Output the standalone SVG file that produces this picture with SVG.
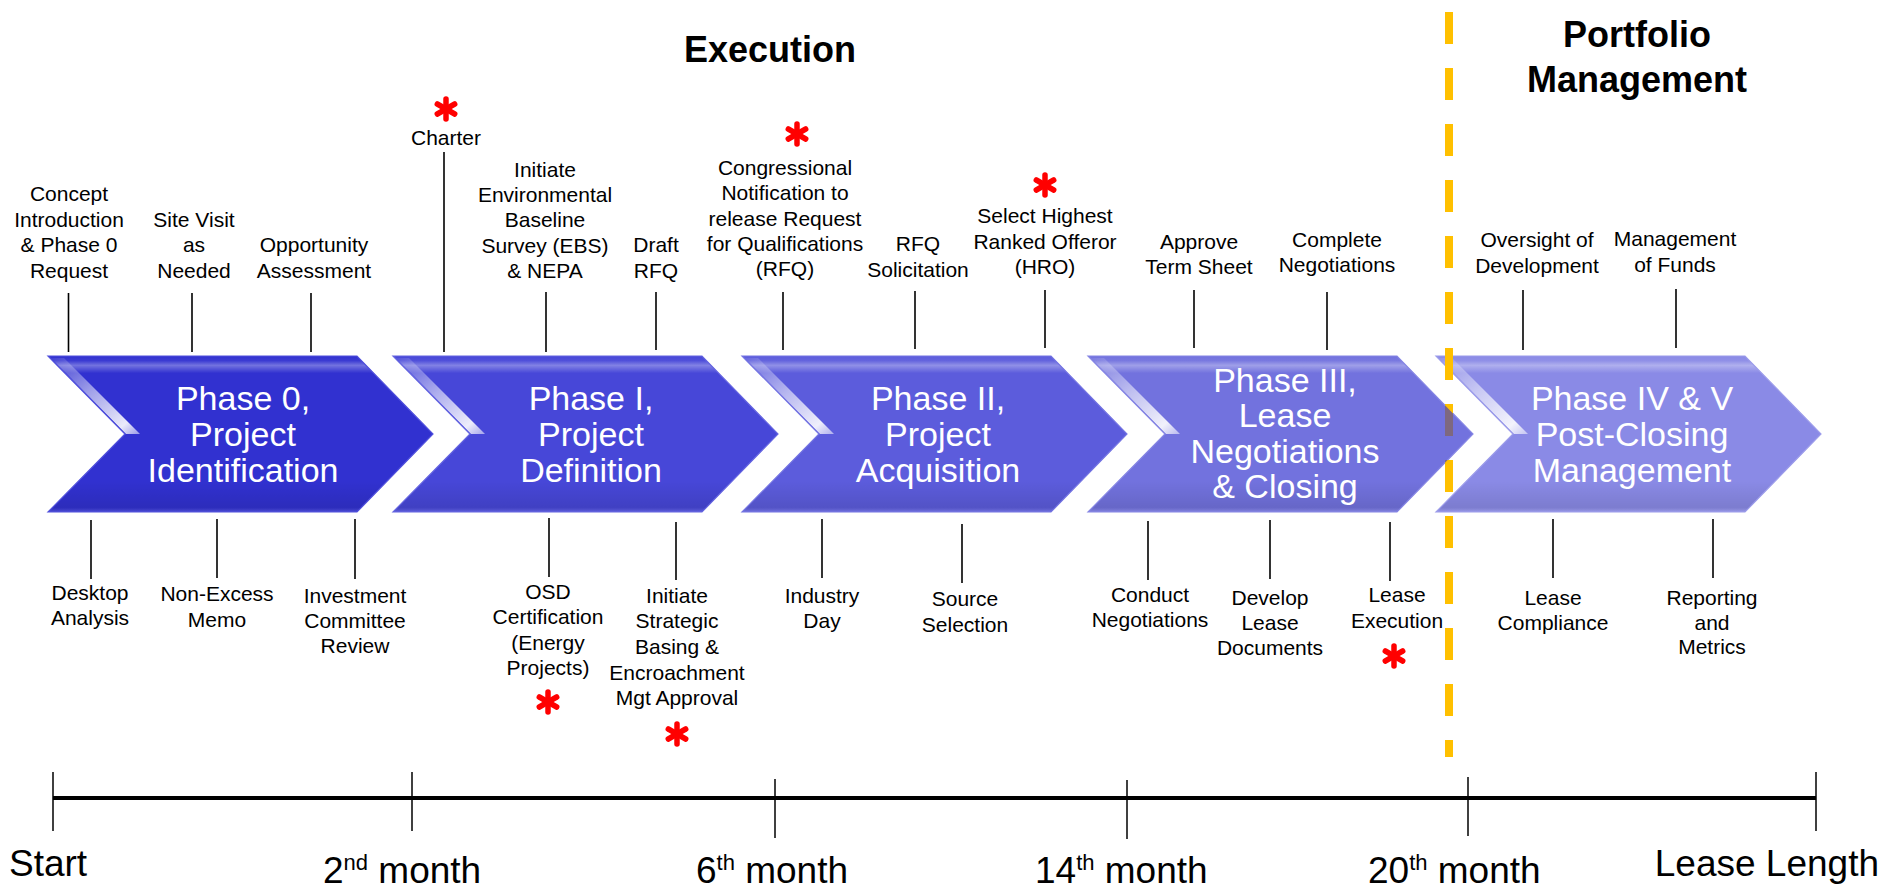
<svg xmlns="http://www.w3.org/2000/svg" xmlns:xlink="http://www.w3.org/1999/xlink" width="1898" height="891" viewBox="0 0 1898 891">
<style>
.lbl{font-family:"Liberation Sans",Arial,sans-serif;font-size:21px;fill:#000;text-anchor:middle}
.ph{font-family:"Liberation Sans",Arial,sans-serif;font-size:34px;fill:#fff;text-anchor:middle}
.title{font-family:"Liberation Sans",Arial,sans-serif;font-size:36px;font-weight:bold;fill:#000;text-anchor:middle}
.ax{font-family:"Liberation Sans",Arial,sans-serif;font-size:37px;fill:#000}
.sup{font-size:22px}
.tick{stroke:#000;stroke-width:1.5}
.conn line{stroke:#000;stroke-width:1.6}
.edge{fill:none;stroke-width:1.2}
</style>
<defs>
<path id="chev" d="M0,0 H309 L385,78 L309,156 H0 L77,78 Z"/>
<linearGradient id="gloss" x1="0" y1="0" x2="0" y2="1">
<stop offset="0" stop-color="#fff" stop-opacity="0"/>
<stop offset="0.03" stop-color="#fff" stop-opacity="0.05"/>
<stop offset="0.06" stop-color="#fff" stop-opacity="0.32"/>
<stop offset="0.11" stop-color="#fff" stop-opacity="0"/>
<stop offset="0.8" stop-color="#000" stop-opacity="0"/>
<stop offset="0.97" stop-color="#000" stop-opacity="0.1"/>
<stop offset="1" stop-color="#fff" stop-opacity="0.15"/>
</linearGradient>
<linearGradient id="bevel" x1="0" y1="0" x2="1" y2="1">
<stop offset="0" stop-color="#fff" stop-opacity="0.05"/>
<stop offset="0.45" stop-color="#fff" stop-opacity="0.55"/>
<stop offset="0.85" stop-color="#fff" stop-opacity="0.9"/>
<stop offset="1" stop-color="#fff" stop-opacity="0.5"/>
</linearGradient>
<polygon id="bev" points="3,2 16,2 92,78 78,78"/>
<g id="ast">
<line x1="0" y1="-10" x2="0" y2="10" stroke="#f00" stroke-width="5.5" stroke-linecap="round"/>
<line x1="-8.7" y1="-5" x2="8.7" y2="5" stroke="#f00" stroke-width="5.5" stroke-linecap="round"/>
<line x1="-8.7" y1="5" x2="8.7" y2="-5" stroke="#f00" stroke-width="5.5" stroke-linecap="round"/>
</g>
<clipPath id="clip3"><use xlink:href="#chev" transform="translate(1088,356)"/></clipPath>
</defs>

<rect width="1898" height="891" fill="#fff"/>

<g id="title-execution"><text class="title" x="770" y="62">Execution</text></g>
<g id="title-portfolio"><text class="title" x="1637" y="47">Portfolio</text><text class="title" x="1637" y="92">Management</text></g>

<!-- chevrons -->
<g id="phase0" transform="translate(48,356)">
<use xlink:href="#chev" fill="#3131d0"/>
<use xlink:href="#chev" fill="url(#gloss)"/>
<use xlink:href="#bev" fill="url(#bevel)"/>
<use xlink:href="#chev" class="edge" stroke="#5050dc"/>
</g>
<g id="phase1" transform="translate(393,356)">
<use xlink:href="#chev" fill="#4747d8"/>
<use xlink:href="#chev" fill="url(#gloss)"/>
<use xlink:href="#bev" fill="url(#bevel)"/>
<use xlink:href="#chev" class="edge" stroke="#6464e0"/>
</g>
<g id="phase2" transform="translate(742,356)">
<use xlink:href="#chev" fill="#5c5cdc"/>
<use xlink:href="#chev" fill="url(#gloss)"/>
<use xlink:href="#bev" fill="url(#bevel)"/>
<use xlink:href="#chev" class="edge" stroke="#7474e2"/>
</g>
<g id="phase3" transform="translate(1088,356)">
<use xlink:href="#chev" fill="#7272de"/>
<use xlink:href="#chev" fill="url(#gloss)"/>
<use xlink:href="#bev" fill="url(#bevel)"/>
<use xlink:href="#chev" class="edge" stroke="#8686e4"/>
</g>
<g id="phase4" transform="translate(1436,356)">
<use xlink:href="#chev" fill="#8a8ae6"/>
<use xlink:href="#chev" fill="url(#gloss)"/>
<use xlink:href="#bev" fill="url(#bevel)"/>
<use xlink:href="#chev" class="edge" stroke="#9c9cea"/>
</g>

<!-- divider -->
<g id="divider">
<line x1="1449" y1="12" x2="1449" y2="757" stroke="#ffc000" stroke-width="8" stroke-dasharray="32 24"/>
<line x1="1449" y1="12" x2="1449" y2="757" stroke="#7e6880" stroke-width="8" stroke-dasharray="32 24" clip-path="url(#clip3)"/>
</g>

<!-- phase texts -->
<g id="phase0-text"><text class="ph" x="243" y="410">Phase 0,</text><text class="ph" x="243" y="446">Project</text><text class="ph" x="243" y="482">Identification</text></g>
<g id="phase1-text"><text class="ph" x="591" y="410">Phase I,</text><text class="ph" x="591" y="446">Project</text><text class="ph" x="591" y="482">Definition</text></g>
<g id="phase2-text"><text class="ph" x="938" y="410">Phase II,</text><text class="ph" x="938" y="446">Project</text><text class="ph" x="938" y="482">Acquisition</text></g>
<g id="phase3-text"><text class="ph" x="1285" y="392">Phase III,</text><text class="ph" x="1285" y="427">Lease</text><text class="ph" x="1285" y="463">Negotiations</text><text class="ph" x="1285" y="498">&amp; Closing</text></g>
<g id="phase4-text"><text class="ph" x="1632" y="410">Phase IV &amp; V</text><text class="ph" x="1632" y="446">Post-Closing</text><text class="ph" x="1632" y="482">Management</text></g>

<!-- connectors -->
<g id="connectors" class="conn">
<line x1="68.5" y1="293" x2="68.5" y2="352"/>
<line x1="192" y1="293" x2="192" y2="352"/>
<line x1="311" y1="293" x2="311" y2="352"/>
<line x1="444" y1="152" x2="444" y2="352"/>
<line x1="546" y1="292" x2="546" y2="352"/>
<line x1="656" y1="292" x2="656" y2="350"/>
<line x1="783" y1="292" x2="783" y2="350"/>
<line x1="915" y1="291" x2="915" y2="349"/>
<line x1="1045" y1="290" x2="1045" y2="348"/>
<line x1="1194" y1="290" x2="1194" y2="348"/>
<line x1="1327" y1="292" x2="1327" y2="350"/>
<line x1="1523" y1="290" x2="1523" y2="350"/>
<line x1="1676" y1="289" x2="1676" y2="348"/>
<line x1="91" y1="520" x2="91" y2="579"/>
<line x1="217" y1="519" x2="217" y2="578"/>
<line x1="355" y1="519" x2="355" y2="579"/>
<line x1="549" y1="518" x2="549" y2="577"/>
<line x1="676" y1="522" x2="676" y2="580"/>
<line x1="822" y1="519" x2="822" y2="578"/>
<line x1="962" y1="524" x2="962" y2="583"/>
<line x1="1148" y1="521" x2="1148" y2="580"/>
<line x1="1270" y1="520" x2="1270" y2="579"/>
<line x1="1390" y1="522" x2="1390" y2="581"/>
<line x1="1553" y1="519" x2="1553" y2="578"/>
<line x1="1713" y1="519" x2="1713" y2="578"/>
</g>

<!-- top milestones -->
<g id="m-concept"><text class="lbl" x="69" y="201">Concept</text><text class="lbl" x="69" y="227">Introduction</text><text class="lbl" x="69" y="252">&amp; Phase 0</text><text class="lbl" x="69" y="278">Request</text></g>
<g id="m-site"><text class="lbl" x="194" y="227">Site Visit</text><text class="lbl" x="194" y="252">as</text><text class="lbl" x="194" y="278">Needed</text></g>
<g id="m-opp"><text class="lbl" x="314" y="252">Opportunity</text><text class="lbl" x="314" y="278">Assessment</text></g>
<g id="m-charter"><use xlink:href="#ast" transform="translate(446,109)"/><text class="lbl" x="446" y="145">Charter</text></g>
<g id="m-ebs"><text class="lbl" x="545" y="177">Initiate</text><text class="lbl" x="545" y="202">Environmental</text><text class="lbl" x="545" y="227">Baseline</text><text class="lbl" x="545" y="253">Survey (EBS)</text><text class="lbl" x="545" y="278">&amp; NEPA</text></g>
<g id="m-draft"><text class="lbl" x="656" y="252">Draft</text><text class="lbl" x="656" y="278">RFQ</text></g>
<g id="m-congress"><use xlink:href="#ast" transform="translate(797,134)"/><text class="lbl" x="785" y="175">Congressional</text><text class="lbl" x="785" y="200">Notification to</text><text class="lbl" x="785" y="226">release Request</text><text class="lbl" x="785" y="251">for Qualifications</text><text class="lbl" x="785" y="276">(RFQ)</text></g>
<g id="m-rfq"><text class="lbl" x="918" y="251">RFQ</text><text class="lbl" x="918" y="277">Solicitation</text></g>
<g id="m-hro"><use xlink:href="#ast" transform="translate(1045,185)"/><text class="lbl" x="1045" y="223">Select Highest</text><text class="lbl" x="1045" y="249">Ranked Offeror</text><text class="lbl" x="1045" y="274">(HRO)</text></g>
<g id="m-term"><text class="lbl" x="1199" y="249">Approve</text><text class="lbl" x="1199" y="274">Term Sheet</text></g>
<g id="m-complete"><text class="lbl" x="1337" y="247">Complete</text><text class="lbl" x="1337" y="272">Negotiations</text></g>
<g id="m-oversight"><text class="lbl" x="1537" y="247">Oversight of</text><text class="lbl" x="1537" y="273">Development</text></g>
<g id="m-funds"><text class="lbl" x="1675" y="246">Management</text><text class="lbl" x="1675" y="272">of Funds</text></g>

<!-- bottom milestones -->
<g id="m-desktop"><text class="lbl" x="90" y="600">Desktop</text><text class="lbl" x="90" y="625">Analysis</text></g>
<g id="m-nonexcess"><text class="lbl" x="217" y="601">Non-Excess</text><text class="lbl" x="217" y="627">Memo</text></g>
<g id="m-invest"><text class="lbl" x="355" y="603">Investment</text><text class="lbl" x="355" y="628">Committee</text><text class="lbl" x="355" y="653">Review</text></g>
<g id="m-osd"><text class="lbl" x="548" y="599">OSD</text><text class="lbl" x="548" y="624">Certification</text><text class="lbl" x="548" y="650">(Energy</text><text class="lbl" x="548" y="675">Projects)</text><use xlink:href="#ast" transform="translate(548,702)"/></g>
<g id="m-strategic"><text class="lbl" x="677" y="603">Initiate</text><text class="lbl" x="677" y="628">Strategic</text><text class="lbl" x="677" y="654">Basing &amp;</text><text class="lbl" x="677" y="680">Encroachment</text><text class="lbl" x="677" y="705">Mgt Approval</text><use xlink:href="#ast" transform="translate(677,734)"/></g>
<g id="m-industry"><text class="lbl" x="822" y="603">Industry</text><text class="lbl" x="822" y="628">Day</text></g>
<g id="m-source"><text class="lbl" x="965" y="606">Source</text><text class="lbl" x="965" y="632">Selection</text></g>
<g id="m-conduct"><text class="lbl" x="1150" y="602">Conduct</text><text class="lbl" x="1150" y="627">Negotiations</text></g>
<g id="m-develop"><text class="lbl" x="1270" y="605">Develop</text><text class="lbl" x="1270" y="630">Lease</text><text class="lbl" x="1270" y="655">Documents</text></g>
<g id="m-leaseexec"><text class="lbl" x="1397" y="602">Lease</text><text class="lbl" x="1397" y="628">Execution</text><use xlink:href="#ast" transform="translate(1394,656)"/></g>
<g id="m-compliance"><text class="lbl" x="1553" y="605">Lease</text><text class="lbl" x="1553" y="630">Compliance</text></g>
<g id="m-reporting"><text class="lbl" x="1712" y="605">Reporting</text><text class="lbl" x="1712" y="630">and</text><text class="lbl" x="1712" y="654">Metrics</text></g>

<!-- timeline axis -->
<g id="axis">
<line x1="53" y1="798" x2="1816" y2="798" stroke="#000" stroke-width="4"/>
<line class="tick" x1="53" y1="772" x2="53" y2="831"/>
<line class="tick" x1="412" y1="772" x2="412" y2="831"/>
<line class="tick" x1="775" y1="779" x2="775" y2="838"/>
<line class="tick" x1="1127" y1="780" x2="1127" y2="839"/>
<line class="tick" x1="1468" y1="777" x2="1468" y2="836"/>
<line class="tick" x1="1816" y1="772" x2="1816" y2="831"/>
<text class="ax" x="9" y="876">Start</text>
<text class="ax" x="323" y="883">2<tspan class="sup" dy="-13">nd</tspan><tspan dy="13"> month</tspan></text>
<text class="ax" x="696" y="883">6<tspan class="sup" dy="-13">th</tspan><tspan dy="13"> month</tspan></text>
<text class="ax" x="1035" y="883">14<tspan class="sup" dy="-13">th</tspan><tspan dy="13"> month</tspan></text>
<text class="ax" x="1368" y="883">20<tspan class="sup" dy="-13">th</tspan><tspan dy="13"> month</tspan></text>
<text class="ax" x="1879" y="876" text-anchor="end">Lease Length</text>
</g>
</svg>
